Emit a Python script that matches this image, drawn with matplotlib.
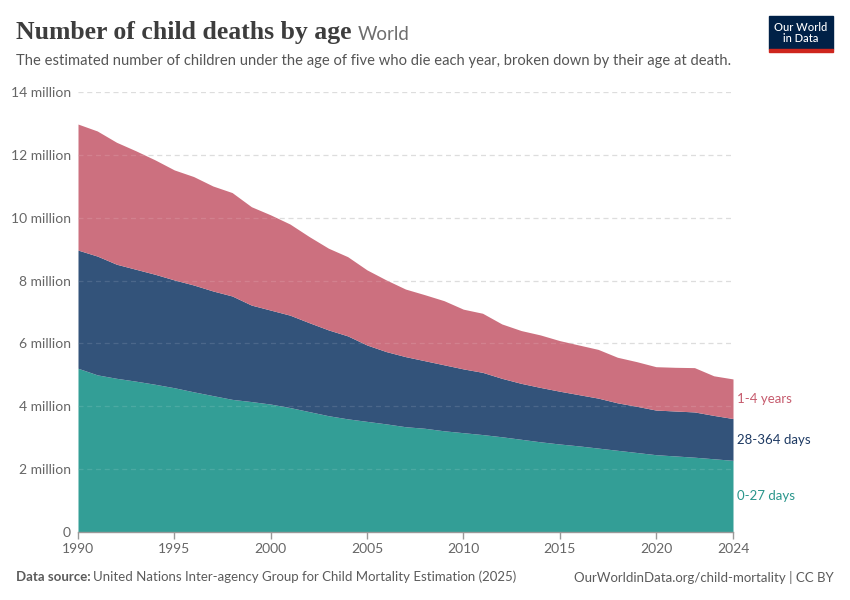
import matplotlib
matplotlib.use("Agg")
import matplotlib.pyplot as plt
from matplotlib.patches import Rectangle
import numpy as np

years = list(range(1990, 2025))
neonatal = [5.21, 5.00, 4.89, 4.80, 4.70, 4.59, 4.46, 4.34, 4.22, 4.15,
            4.07, 3.96, 3.83, 3.70, 3.60, 3.52, 3.44, 3.35, 3.30, 3.22,
            3.16, 3.10, 3.03, 2.95, 2.87, 2.80, 2.74, 2.67, 2.60, 2.53,
            2.46, 2.42, 2.38, 2.33, 2.28]
infant_total = [8.97, 8.78, 8.52, 8.36, 8.20, 8.02, 7.86, 7.67, 7.51, 7.22,
                7.06, 6.90, 6.66, 6.43, 6.24, 5.95, 5.74, 5.58, 5.45, 5.32,
                5.19, 5.08, 4.89, 4.73, 4.60, 4.48, 4.37, 4.26, 4.11, 4.00,
                3.88, 3.85, 3.82, 3.71, 3.61]
under5_total = [12.98, 12.76, 12.40, 12.13, 11.84, 11.52, 11.31, 11.01, 10.80, 10.35,
                10.09, 9.80, 9.40, 9.03, 8.76, 8.34, 8.02, 7.73, 7.55, 7.36,
                7.09, 6.96, 6.62, 6.41, 6.27, 6.09, 5.95, 5.81, 5.56, 5.42,
                5.26, 5.24, 5.23, 4.97, 4.87]
postneonatal = [a - b for a, b in zip(infant_total, neonatal)]
child_1_4 = [a - b for a, b in zip(under5_total, infant_total)]

series_names = ["0-27 days", "28-364 days", "1-4 years"]
colors = ["#339e96", "#33537a", "#cc707f"]
label_colors = ["#2a968c", "#1e3a63", "#c65b6d"]

yticks = [0, 2, 4, 6, 8, 10, 12, 14]
ytick_labels = ["0", "2 million", "4 million", "6 million", "8 million",
                "10 million", "12 million", "14 million"]
xticks = [1990, 1995, 2000, 2005, 2010, 2015, 2020, 2024]

plt.rcParams['font.family'] = ['Lato', 'DejaVu Sans']

fig = plt.figure(figsize=(8.5, 6), dpi=100)
ax = fig.add_axes([78/850, 1-532/600, (733-78)/850, (532-92)/600])

yr = np.array(years)
n = np.array(neonatal)
p = np.array(postneonatal)
c = np.array(child_1_4)
ax.fill_between(yr, 0, n, color=colors[0], lw=0, zorder=1)
ax.fill_between(yr, n, n + p, color=colors[1], lw=0, zorder=1)
ax.fill_between(yr, n + p, n + p + c, color=colors[2], lw=0, zorder=1)

ax.set_xlim(1990, 2024)
ax.set_ylim(0, 14)
ax.set_yticks(yticks)
ax.set_yticklabels(ytick_labels)
ax.set_xticks(xticks)
ax.set_xticklabels([str(x) for x in xticks])

for v in yticks[1:]:
    ax.axhline(v, color="#d9d9d9", lw=0.9, ls=(0, (4, 3)), zorder=0)
    ax.axhline(v, color="#ffffff", lw=0.9, ls=(0, (4, 3)), alpha=0.12, zorder=2)

for s in ["top", "right", "left"]:
    ax.spines[s].set_visible(False)
ax.spines["bottom"].set_color("#999999")
ax.spines["bottom"].set_linewidth(1)
ax.spines["bottom"].set_zorder(3)
ax.tick_params(axis="y", length=0, pad=5, labelsize=10, labelcolor="#666666")
ax.tick_params(axis="x", length=5, width=1, color="#999999", pad=3,
               labelsize=10, labelcolor="#666666")
ax.margins(x=0)

# right-side series labels
label_y = [1.13, 2.93, 4.22]
for name, yv, col in zip(series_names, label_y, label_colors):
    ax.text(1.006, yv, name, transform=ax.get_yaxis_transform(),
            color=col, fontsize=9.5, va="center", ha="left")

# title and subtitle
title = fig.text(16/850, 1-33/600, "Number of child deaths by age",
                 fontsize=18.5, family=['Liberation Serif', 'DejaVu Serif'],
                 color="#3d3d3d", va="center", ha="left", weight="bold")
fig.canvas.draw()
bb = title.get_window_extent(renderer=fig.canvas.get_renderer())
fig.text(bb.x1/850 + 6/850, 1-34/600, "World", fontsize=13.5, color="#6e6e6e",
         va="center", ha="left")
fig.text(16/850, 1-61/600,
         "The estimated number of children under the age of five who die each year, broken down by their age at death.",
         fontsize=10.65, color="#555555", va="center", ha="left")

# logo
fig.patches.append(Rectangle((769/850, 1-49/600), 64/850, 33/600,
                             transform=fig.transFigure, color="#002147", zorder=5))
fig.patches.append(Rectangle((769/850, 1-52/600), 64/850, 3/600,
                             transform=fig.transFigure, color="#ce261e", zorder=5))
fig.text(801/850, 1-33/600, "Our World\nin Data", color="white", fontsize=8,
         ha="center", va="center", linespacing=1.0, zorder=6, weight="medium")

# footer
fig.text(16/850, 1-577/600, "Data source:", fontsize=9.5, color="#5b5b5b",
         weight="bold", va="center", ha="left")
fig.text(93/850, 1-577/600,
         "United Nations Inter-agency Group for Child Mortality Estimation (2025)",
         fontsize=9.5, color="#5b5b5b", va="center", ha="left")
fig.text(834/850, 1-577/600, "OurWorldinData.org/child-mortality | CC BY",
         fontsize=9.5, color="#5b5b5b", va="center", ha="right")

fig.savefig("out.png", dpi=100, facecolor="white")
